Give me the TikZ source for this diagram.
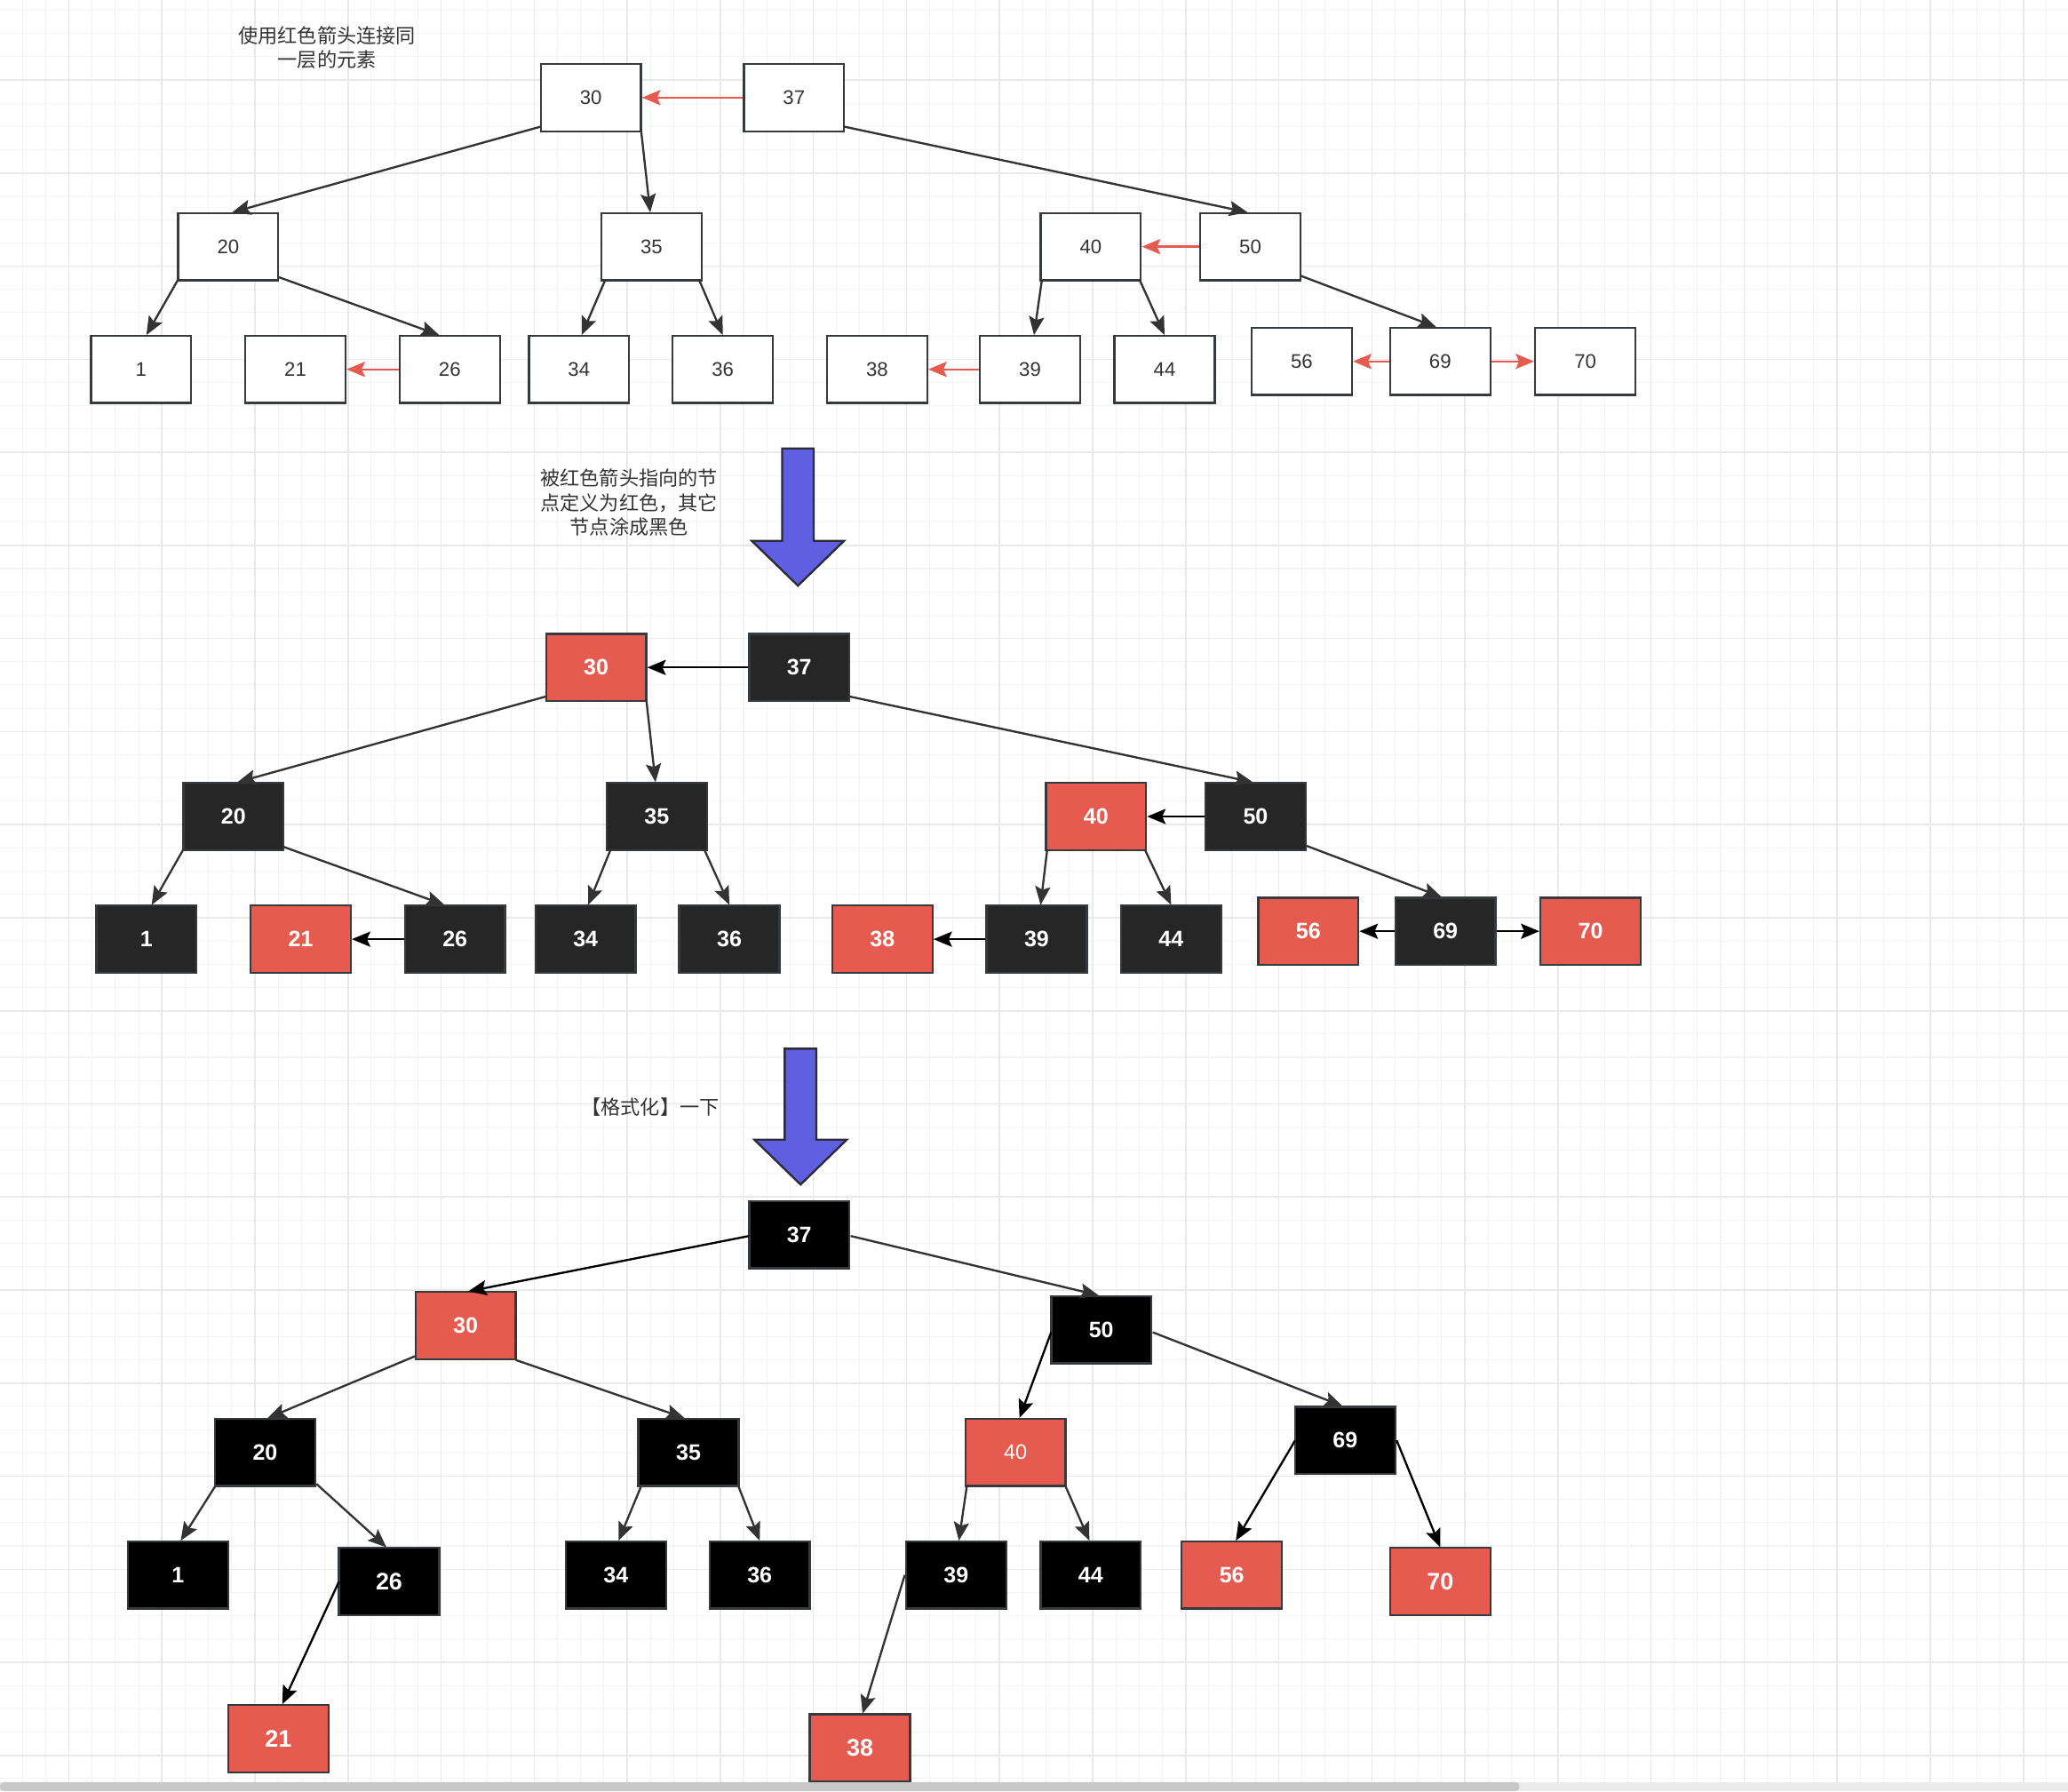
\documentclass[tikz,border=0pt]{standalone}
\usepackage{fontspec}
\setmainfont{Liberation Sans}
\newfontfamily\cjk{Noto Sans CJK SC}
\usetikzlibrary{arrows.meta,calc}
\definecolor{nred}{HTML}{E55B50}
\definecolor{nblk}{HTML}{262626}
\definecolor{nbrd}{HTML}{36393D}
\definecolor{gminor}{HTML}{F4F4F4}
\definecolor{gmajor}{HTML}{E9E9E9}
\definecolor{blu}{HTML}{5F5FE1}
\definecolor{bluedge}{HTML}{2B2B3A}
\definecolor{edgec}{HTML}{333333}
\definecolor{txtc}{HTML}{333333}
\definecolor{sbar}{HTML}{C8C8C8}
\definecolor{strack}{HTML}{EBEBEC}
\begin{document}
\begin{tikzpicture}[x=0.02cm,y=-0.02cm,
  box/.style={draw=nbrd, line width=0.9pt, minimum width=1.52cm, minimum height=1.02cm, inner sep=0pt, text=txtc, font=\fontsize{8.5}{10}\selectfont},
  wbox/.style={box, fill=white},
  rbox/.style={box, fill=nred, text=white, font=\bfseries\fontsize{9.6}{11}\selectfont},
  kbox/.style={box, fill=nblk, text=white, font=\bfseries\fontsize{9.6}{11}\selectfont},
  bbox/.style={box, fill=black, text=white, font=\bfseries\fontsize{9.6}{11}\selectfont},
  bigfont/.style={font=\bfseries\fontsize{10.3}{12}\selectfont},
  edge/.style={draw=edgec, line width=0.9pt, -{Stealth[length=0.28cm,width=0.23cm,inset=0.05cm]}},
  redge/.style={edge, draw=nred},
  kedge/.style={edge, draw=black},
  txt/.style={align=center, text=txtc, font=\cjk\fontsize{8.5}{10.5}\selectfont, inner sep=0pt},
  bigarrow/.style={draw=bluedge, fill=blu, line width=0.9pt, line join=miter}
]
\useasboundingbox (0,0) rectangle (1568,1358);
\fill[white] (0,0) rectangle (1568,1358);
% grid
\foreach \i in {0,...,88} \draw[gminor, line width=0.4pt] ({16.9+17.64*\i},0) -- ({16.9+17.64*\i},1351);
\foreach \j in {0,...,76} \draw[gminor, line width=0.4pt] (0,{7.7+17.64*\j}) -- (1568,{7.7+17.64*\j});
\foreach \i in {0,...,21} \draw[gmajor, line width=0.6pt] ({52.2+70.57*\i},0) -- ({52.2+70.57*\i},1351);
\foreach \j in {0,...,18} \draw[gmajor, line width=0.6pt] (0,{60.6+70.57*\j}) -- (1568,{60.6+70.57*\j});
% scrollbar
\fill[strack] (0,1351) rectangle (1568,1358);
\fill[sbar, rounded corners=0.06cm] (0,1351) rectangle (1152,1358);

% notes
\node[txt] (note1) at (248,36) {使用红色箭头连接同\\一层的元素};
\node[txt] (note2) at (477,381) {被红色箭头指向的节\\点定义为红色，其它\\节点涂成黑色};
\node[txt] (note3) at (493,839) {【格式化】一下};

% big arrows
\draw[bigarrow] (593,340) -- (617,340) -- (617,410) -- (640,410) -- (605,444) -- (570,410) -- (593,410) -- cycle;
\draw[bigarrow] (595,795) -- (619,795) -- (619,864) -- (642,864) -- (607,898) -- (572,864) -- (595,864) -- cycle;

% ===== top section =====
\node[wbox] (t30) at (448,74) {30};
\node[wbox] (t37) at (602,74) {37};
\node[wbox] (t20) at (173,187) {20};
\node[wbox] (t35) at (494,187) {35};
\node[wbox] (t40) at (827,187) {40};
\node[wbox] (t50) at (948,187) {50};
\node[wbox] (t1) at (107,280) {1};
\node[wbox] (t21) at (224,280) {21};
\node[wbox] (t26) at (341,280) {26};
\node[wbox] (t34) at (439,280) {34};
\node[wbox] (t36) at (548,280) {36};
\node[wbox] (t38) at (665,280) {38};
\node[wbox] (t39) at (781,280) {39};
\node[wbox] (t44) at (883,280) {44};
\node[wbox] (t56) at (987,274) {56};
\node[wbox] (t69) at (1092,274) {69};
\node[wbox] (t70) at (1202,274) {70};

\draw[edge] ($(t30)+(-38,22)$) -- ($(t20)+(3,-26)$);
\draw[edge] ($(t30)+(38,24)$) -- ($(t35)+(-1,-26)$);
\draw[edge] ($(t37)+(38,22)$) -- ($(t50)+(-2,-26)$);
\draw[edge] ($(t20)+(-38,25)$) -- ($(t1)+(4,-26)$);
\draw[edge] ($(t20)+(38,23)$) -- ($(t26)+(-8,-26)$);
\draw[edge] ($(t35)+(-35,25)$) -- ($(t34)+(2,-26)$);
\draw[edge] ($(t35)+(36,25)$) -- ($(t36)+(0,-26)$);
\draw[edge] ($(t40)+(-37,25)$) -- ($(t39)+(3,-26)$);
\draw[edge] ($(t40)+(37,25)$) -- ($(t44)+(0,-26)$);
\draw[edge] ($(t50)+(38,22)$) -- ($(t69)+(-3,-26)$);
\draw[redge] (t37.west) -- (t30.east);
\draw[redge] (t50.west) -- (t40.east);
\draw[redge] (t26.west) -- (t21.east);
\draw[redge] (t39.west) -- (t38.east);
\draw[redge] (t69.west) -- (t56.east);
\draw[redge] (t69.east) -- (t70.west);

% ===== middle section =====
\node[rbox] (m30) at (452,506) {30};
\node[kbox] (m37) at (606,506) {37};
\node[kbox] (m20) at (177,619) {20};
\node[kbox] (m35) at (498,619) {35};
\node[rbox] (m40) at (831,619) {40};
\node[kbox] (m50) at (952,619) {50};
\node[kbox] (m1) at (111,712) {1};
\node[rbox] (m21) at (228,712) {21};
\node[kbox] (m26) at (345,712) {26};
\node[kbox] (m34) at (444,712) {34};
\node[kbox] (m36) at (553,712) {36};
\node[rbox] (m38) at (669,712) {38};
\node[kbox] (m39) at (786,712) {39};
\node[kbox] (m44) at (888,712) {44};
\node[rbox] (m56) at (992,706) {56};
\node[kbox] (m69) at (1096,706) {69};
\node[rbox] (m70) at (1206,706) {70};

\draw[edge] ($(m30)+(-38,22)$) -- ($(m20)+(3,-26)$);
\draw[edge] ($(m30)+(38,24)$) -- ($(m35)+(-1,-26)$);
\draw[edge] ($(m37)+(38,22)$) -- ($(m50)+(-2,-26)$);
\draw[edge] ($(m20)+(-38,25)$) -- ($(m1)+(4,-26)$);
\draw[edge] ($(m20)+(38,23)$) -- ($(m26)+(-8,-26)$);
\draw[edge] ($(m35)+(-35,25)$) -- ($(m34)+(2,-26)$);
\draw[edge] ($(m35)+(36,25)$) -- ($(m36)+(0,-26)$);
\draw[edge] ($(m40)+(-37,25)$) -- ($(m39)+(3,-26)$);
\draw[edge] ($(m40)+(37,25)$) -- ($(m44)+(0,-26)$);
\draw[edge] ($(m50)+(38,22)$) -- ($(m69)+(-3,-26)$);
\draw[kedge] (m37.west) -- (m30.east);
\draw[kedge] (m50.west) -- (m40.east);
\draw[kedge] (m26.west) -- (m21.east);
\draw[kedge] (m39.west) -- (m38.east);
\draw[kedge] (m69.west) -- (m56.east);
\draw[kedge] (m69.east) -- (m70.west);

% ===== bottom section =====
\node[bbox] (b37) at (606,936) {37};
\node[rbox] (b30) at (353,1005) {30};
\node[bbox] (b50) at (835,1008) {50};
\node[bbox] (b20) at (201,1101) {20};
\node[bbox] (b35) at (522,1101) {35};
\node[box, fill=nred, text=white, font=\fontsize{9}{11}\selectfont] (b40) at (770,1101) {40};
\node[bbox] (b69) at (1020,1092) {69};
\node[bbox] (b1) at (135,1194) {1};
\node[bbox, bigfont] (b26) at (295,1199) {26};
\node[bbox] (b34) at (467,1194) {34};
\node[bbox] (b36) at (576,1194) {36};
\node[bbox] (b39) at (725,1194) {39};
\node[bbox] (b44) at (827,1194) {44};
\node[rbox] (b56) at (934,1194) {56};
\node[rbox, bigfont] (b70) at (1092,1199) {70};
\node[rbox, bigfont] (b21) at (211,1318) {21};
\node[rbox, bigfont] (b38) at (652,1325) {38};

\draw[kedge] ($(b37)+(-38,1)$) -- ($(b30)+(2,-26)$);
\draw[edge] ($(b37)+(39,1)$) -- ($(b50)+(-2,-26)$);
\draw[edge] ($(b30)+(-38,23)$) -- ($(b20)+(2,-26)$);
\draw[edge] ($(b30)+(38,26)$) -- ($(b35)+(-3,-26)$);
\draw[kedge] ($(b50)+(-38,2)$) -- ($(b40)+(3,-26)$);
\draw[edge] ($(b50)+(39,2)$) -- ($(b69)+(-2,-26)$);
\draw[edge] ($(b20)+(-38,26)$) -- ($(b1)+(2,-26)$);
\draw[edge] ($(b20)+(39,24)$) -- ($(b26)+(-2,-26)$);
\draw[kedge] ($(b26)+(-38,0)$) -- ($(b21)+(3,-26)$);
\draw[edge] ($(b35)+(-36,26)$) -- ($(b34)+(2,-26)$);
\draw[edge] ($(b35)+(38,26)$) -- ($(b36)+(0,-26)$);
\draw[edge] ($(b40)+(-37,26)$) -- ($(b39)+(2,-26)$);
\draw[edge] ($(b40)+(38,26)$) -- ($(b44)+(-1,-26)$);
\draw[edge] ($(b39)+(-39,0)$) -- ($(b38)+(2,-26)$);
\draw[kedge] ($(b69)+(-38,0)$) -- ($(b56)+(3,-26)$);
\draw[kedge] ($(b69)+(39,0)$) -- ($(b70)+(0,-26)$);
\end{tikzpicture}
\end{document}
